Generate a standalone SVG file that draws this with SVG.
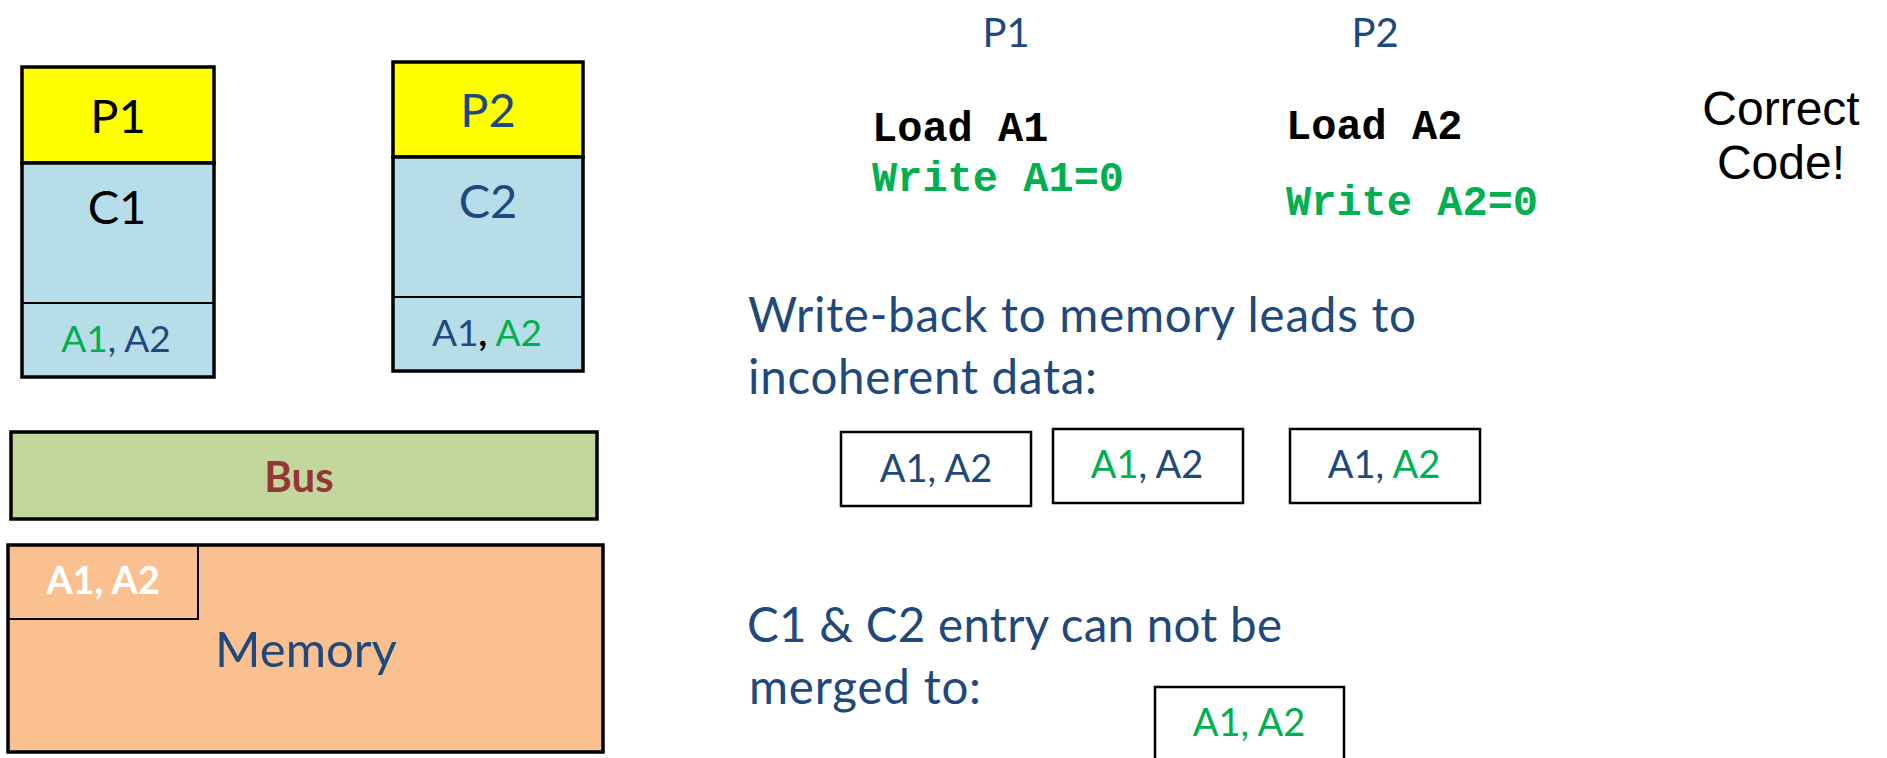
<svg xmlns="http://www.w3.org/2000/svg" width="1887" height="758" viewBox="0 0 1887 758">
<style>
.t{font-family:Lato,"Noto Sans",sans-serif}
.b{font-weight:bold}
.mono{font-family:"Liberation Mono","Courier New",monospace;font-weight:bold;font-size:42px}
.arial{font-family:"Liberation Sans",Arial,sans-serif;font-size:48px;text-anchor:middle}
.blue{fill:#1F497D}
.green{fill:#00B050}
.blk{fill:#000}
.proc{fill:#FFFF00;stroke:#000;stroke-width:3.5}
.cache{fill:#B7DEE8;stroke:#000;stroke-width:3.5}
.div{stroke:#000;stroke-width:2}
.box{fill:#fff;stroke:#000;stroke-width:2.5}
.mid{text-anchor:middle}
</style>
<rect width="1887" height="758" fill="#fff"/>
<g id="node-p1">
<rect class="proc" x="22" y="67" width="192" height="96"/>
<rect class="cache" x="22" y="163" width="192" height="214"/>
<line class="div" x1="22" y1="303" x2="214" y2="303"/>
<text class="t mid blk" x="118" y="133" font-size="47">P1</text>
<text class="t mid blk" x="117" y="224" font-size="47">C1</text>
<text class="t mid" x="116" y="352" font-size="37"><tspan class="green">A1</tspan><tspan class="blue">, A2</tspan></text>
</g>
<g id="node-p2">
<rect class="proc" x="393" y="62" width="190" height="95"/>
<rect class="cache" x="393" y="157" width="190" height="214"/>
<line class="div" x1="393" y1="297" x2="583" y2="297"/>
<text class="t mid blue" x="488" y="127" font-size="47">P2</text>
<text class="t mid blue" x="488" y="218" font-size="47">C2</text>
<text class="t mid" x="487" y="346" font-size="37"><tspan class="blue">A1</tspan><tspan class="blk b">,</tspan><tspan class="green"> A2</tspan></text>
</g>
<g id="node-bus">
<rect x="11" y="432" width="586" height="87" fill="#C3D69B" stroke="#000" stroke-width="3.5"/>
<text class="t b mid" x="299" y="492" font-size="42" fill="#953735">Bus</text>
</g>
<g id="node-memory">
<rect x="8" y="545" width="595" height="207" fill="#FAC090" stroke="#000" stroke-width="3.5"/>
<rect x="8" y="545" width="190" height="74" fill="none" stroke="#000" stroke-width="2"/>
<text class="t b mid" x="103" y="594" font-size="38" fill="#fff">A1, A2</text>
<text class="t mid blue" x="306" y="667" font-size="49">Memory</text>
</g>
<g id="code">
<text class="t mid blue" x="1006" y="47" font-size="40">P1</text>
<text class="t mid blue" x="1375" y="47" font-size="40">P2</text>
<text class="mono blk" x="872" y="141">Load A1</text>
<text class="mono green" x="872" y="191">Write A1=0</text>
<text class="mono blk" x="1286" y="139">Load A2</text>
<text class="mono green" x="1286" y="215">Write A2=0</text>
<text class="arial blk" x="1781" y="125">Correct</text>
<text class="arial blk" x="1781" y="179">Code!</text>
</g>
<g id="writeback">
<text class="t blue" x="748" y="332" font-size="47.5" textLength="668">Write-back to memory leads to</text>
<text class="t blue" x="748" y="394" font-size="47.5" textLength="349">incoherent data:</text>
</g>
<g id="node-mem-result">
<rect class="box" x="841" y="432" width="190" height="74"/>
<text class="t mid blue" x="936" y="482" font-size="38">A1, A2</text>
</g>
<g id="node-c1-result">
<rect class="box" x="1053" y="429" width="190" height="74"/>
<text class="t mid" x="1147" y="478" font-size="38"><tspan class="green">A1</tspan><tspan class="blue">, A2</tspan></text>
</g>
<g id="node-c2-result">
<rect class="box" x="1290" y="429" width="190" height="74"/>
<text class="t mid" x="1384" y="478" font-size="38"><tspan class="blue">A1, </tspan><tspan class="green">A2</tspan></text>
</g>
<g id="merge">
<text class="t blue" x="747" y="642" font-size="47.5" textLength="535">C1 &amp; C2 entry can not be</text>
<text class="t blue" x="749" y="704" font-size="47.5" textLength="232">merged to:</text>
</g>
<g id="node-merged">
<rect class="box" x="1155" y="687" width="189" height="90"/>
<text class="t mid green" x="1249" y="736" font-size="38">A1, A2</text>
</g>
<g id="connectors"/>
</svg>
